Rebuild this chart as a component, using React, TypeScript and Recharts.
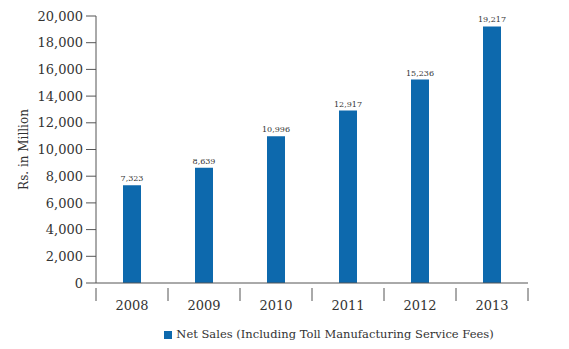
import React from 'react';
import { BarChart, Bar, XAxis, YAxis, Legend, LabelList } from 'recharts';

const years = ['2008', '2009', '2010', '2011', '2012', '2013'];
const netSales = [7323, 8639, 10996, 12917, 15236, 19217];
const yTicks = [0, 2000, 4000, 6000, 8000, 10000, 12000, 14000, 16000, 18000, 20000];

const data = years.map((year, i) => ({ year, sales: netSales[i] }));

const FONT = '"DejaVu Serif", "Liberation Serif", serif';
const BAR_COLOR = '#0d69ad';
const BAND = 72;

const XTick = (props: any) => {
  const { x, y, payload, index } = props;
  const last = index === years.length - 1;
  return (
    <g>
      <line x1={x - BAND / 2} y1={y - 3} x2={x - BAND / 2} y2={y + 10} stroke="#555" />
      {last && <line x1={x + BAND / 2} y1={y - 3} x2={x + BAND / 2} y2={y + 10} stroke="#555" />}
      <text x={x} y={y + 19} textAnchor="middle" fontSize={13} fill="#333" fontFamily={FONT}>
        {payload.value}
      </text>
    </g>
  );
};

export default function App() {
  return (
    <div style={{ position: 'absolute', left: 0, top: 0, background: '#fff' }}>
      <BarChart
        width={569}
        height={349}
        data={data}
        margin={{ top: 16, right: 41, left: 0, bottom: 8 }}
        barSize={18}
      >
        <XAxis
          dataKey="year"
          tick={<XTick />}
          tickLine={false}
          axisLine={{ stroke: '#555' }}
          height={44}
          interval={0}
        />
        <YAxis
          width={96}
          domain={[0, 20000]}
          ticks={yTicks}
          interval={0}
          tickFormatter={(v: number) => v.toLocaleString('en-US')}
          tick={{ fontSize: 13, fill: '#333', fontFamily: FONT }}
          tickLine={{ stroke: '#555' }}
          tickSize={10}
          tickMargin={3}
          axisLine={{ stroke: '#555' }}
          label={{
            value: 'Rs. in Million',
            angle: -90,
            position: 'insideLeft',
            offset: 24,
            style: { fontSize: 12, fill: '#333', fontFamily: FONT, textAnchor: 'middle' },
          }}
        />
        <Legend
          verticalAlign="bottom"
          iconType="square"
          iconSize={8}
          wrapperStyle={{ fontFamily: FONT, fontSize: 11.5, paddingLeft: 70 }}
          formatter={(value: string) => <span style={{ color: '#333' }}>{value}</span>}
        />
        <Bar
          dataKey="sales"
          name="Net Sales (Including Toll Manufacturing Service Fees)"
          fill={BAR_COLOR}
          isAnimationActive={false}
        >
          <LabelList
            dataKey="sales"
            position="top"
            offset={4}
            formatter={(v: number) => v.toLocaleString('en-US')}
            style={{ fontSize: 8, fill: '#333', fontFamily: FONT }}
          />
        </Bar>
      </BarChart>
    </div>
  );
}
